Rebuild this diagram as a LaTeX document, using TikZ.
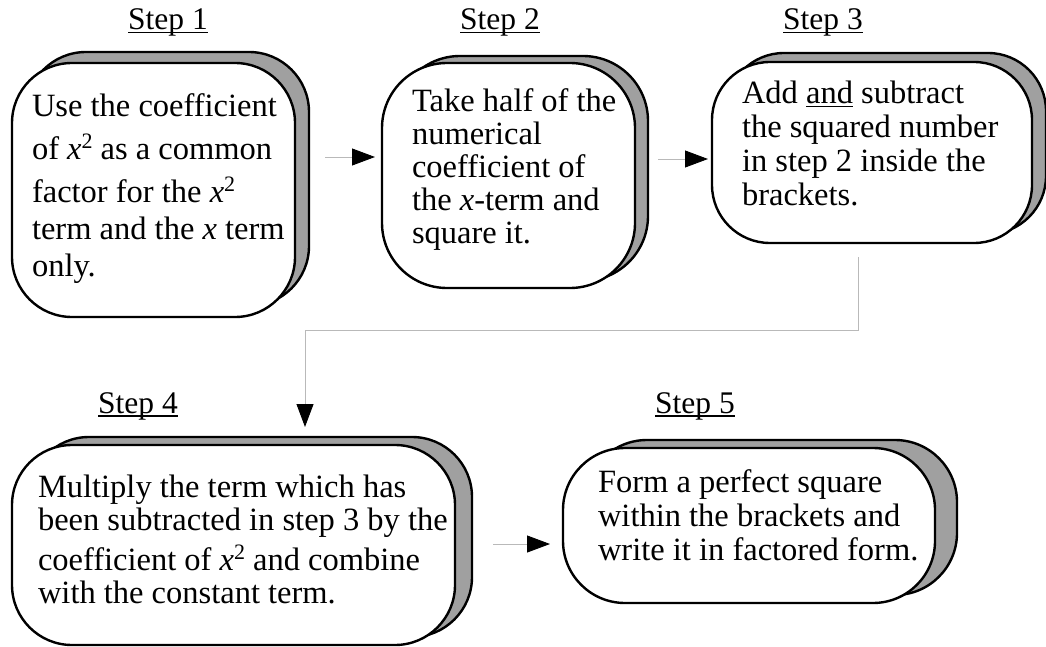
\documentclass[tikz,border=0pt]{standalone}
\usepackage{fontspec}
\setmainfont{Liberation Serif}
\usetikzlibrary{arrows.meta,calc}
\definecolor{shadowgray}{RGB}{160,160,160}
\definecolor{linkgray}{RGB}{185,185,185}
\newcommand\myul[1]{\setbox0\hbox{#1}\rlap{\rule[-3.5pt]{\wd0}{1.3pt}}\box0\relax}
\newcommand\xx{\textit{x}}
\newcommand\xsq{\textit{x}\raisebox{11pt}{\fontsize{22}{22}\selectfont 2}}
\begin{document}
\begin{tikzpicture}[x=1pt,y=-1pt,
  stepbox/.style={draw=black,fill=white,line width=2.4pt,inner sep=0pt,outer sep=0pt},
  shadowbox/.style={draw=black,fill=shadowgray,line width=2.4pt},
  boxtext/.style={anchor=base west,inner sep=0pt,outer sep=0pt},
  steplabel/.style={anchor=base west,inner sep=0pt,font=\fontsize{31.5}{33}\selectfont},
  flow/.style={draw=linkgray,line width=0.9pt,-{Triangle[length=23pt,width=17pt,color=black]}}]
\useasboundingbox (0,0) rectangle (1046,647);
\fontsize{32.5}{33}\selectfont
\lineskiplimit=-100pt
% shadows
\draw[shadowbox,rounded corners=60pt] (26,52) rectangle (309,306);
\draw[shadowbox,rounded corners=65pt] (395,56) rectangle (648,281);
\draw[shadowbox,rounded corners=58pt] (726,53) rectangle (1046,234);
\draw[shadowbox,rounded corners=60pt] (29,437) rectangle (472,637);
\draw[shadowbox,rounded corners=62pt] (585,440) rectangle (957,595);
% boxes
\node[stepbox,rounded corners=60pt,minimum width=283pt,minimum height=254pt] (b1) at (153.5,190) {};
\node[stepbox,rounded corners=65pt,minimum width=253pt,minimum height=225pt] (b2) at (508.5,175.5) {};
\node[stepbox,rounded corners=58pt,minimum width=320pt,minimum height=181pt] (b3) at (872,152.5) {};
\node[stepbox,rounded corners=60pt,minimum width=443pt,minimum height=200pt] (b4) at (233.5,545) {};
\node[stepbox,rounded corners=62pt,minimum width=372pt,minimum height=155pt] (b5) at (749,525.5) {};
% labels
\node[steplabel] (s1) at (128,30) {\myul{Step 1}};
\node[steplabel] (s2) at (460,30) {\myul{Step 2}};
\node[steplabel] (s3) at (783,30) {\myul{Step 3}};
\node[steplabel] (s4) at (98,413) {\myul{Step 4}};
\node[steplabel] (s5) at (655,413) {\myul{Step 5}};
% texts
\node[boxtext] (t1) at (32,117) {\parbox[t]{275pt}{\fontsize{32.5}{37}\selectfont\raggedright
Use the coefficient\\[6pt]
of \xsq{} as a common\\[6pt]
factor for the \xsq\\
term and the \xx{} term\\
only.}};
\node[boxtext] (t2) at (412,112) {\parbox[t]{240pt}{\fontsize{32.5}{33}\selectfont\raggedright
Take half of the\\
numerical\\
coefficient of\\
the \xx-term and\\
square it.}};
\node[boxtext] (t3) at (742,104) {\parbox[t]{300pt}{\fontsize{32.5}{34}\selectfont\raggedright
Add \myul{and} subtract\\
the squared number\\
in step 2 inside the\\
brackets.}};
\node[boxtext] (t4) at (38,497) {\parbox[t]{430pt}{\fontsize{32.5}{33}\selectfont\raggedright
Multiply the term which has\\
been subtracted in step 3 by the\\[7pt]
coefficient of \xsq{} and combine\\
with the constant term.}};
\node[boxtext] (t5) at (598,492) {\parbox[t]{350pt}{\fontsize{32.5}{34}\selectfont\raggedright
Form a perfect square\\
within the brackets and\\
write it in factored form.}};
% connectors
\coordinate (a12) at (325,157);
\coordinate (a23) at (658,159);
\coordinate (a34) at (858,257);
\coordinate (a34c) at (305,330);
\coordinate (a45) at (493,544);
\draw[flow,shorten >=7pt] (a12) -- (b2.west |- a12);
\draw[flow,shorten >=4pt] (a23) -- (b3.west |- a23);
\draw[flow,shorten >=18pt] (a34) |- (a34c) -- (a34c |- b4.north);
\draw[flow,shorten >=13pt] (a45) -- (b5.west |- a45);
\end{tikzpicture}
\end{document}
